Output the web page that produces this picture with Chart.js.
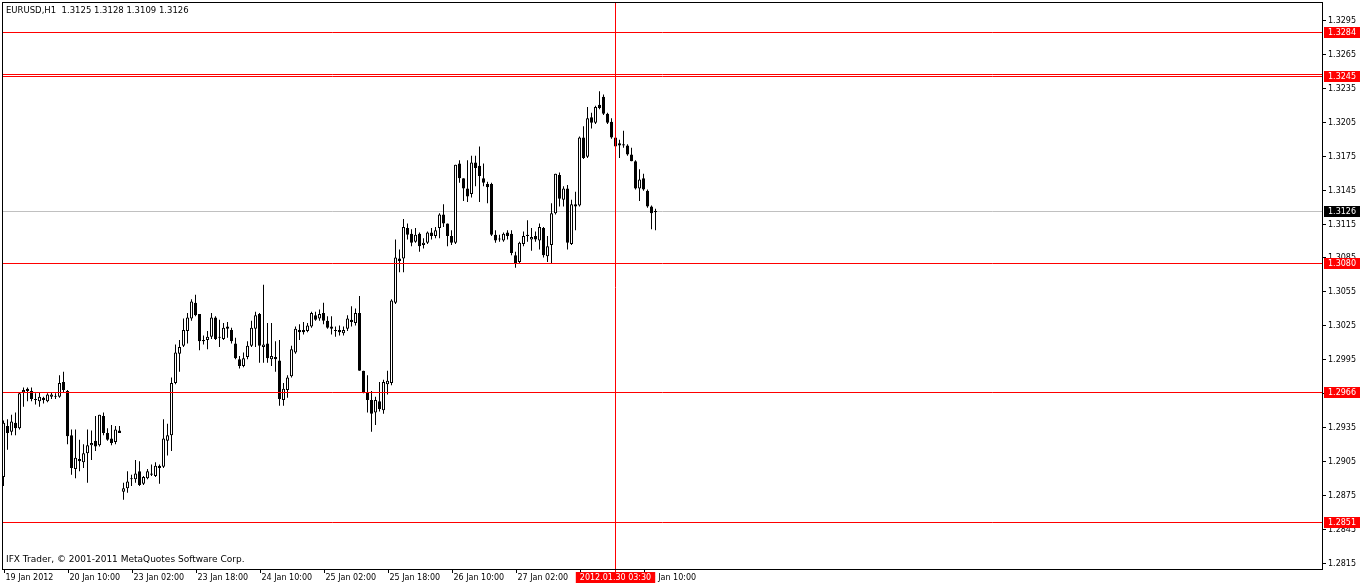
<!DOCTYPE html>
<html>
<head>
<meta charset="utf-8">
<title>EURUSD,H1</title>
<script src="https://cdn.jsdelivr.net/npm/chart.js@4.4.0/dist/chart.umd.min.js"></script>
<style>
  html, body { margin: 0; padding: 0; background: #fff; }
  canvas { display: block; }
</style>
</head>
<body>
<canvas id="priceChart" width="1360" height="586"></canvas>
<script>
const symbolTitle = 'EURUSD,H1  1.3125 1.3128 1.3109 1.3126';
const copyrightText = 'IFX Trader, \u00a9 2001-2011 MetaQuotes Software Corp.';

// hourly bars, 19 Jan 2012 18:00 -> 30 Jan 2012 13:00
const opens = [
  1.2891, 1.2936, 1.2931, 1.2939, 1.2934, 1.2966, 1.2969, 1.2967, 1.2960, 1.2958,
  1.2961, 1.2958, 1.2962, 1.2962, 1.2962, 1.2975, 1.2967, 1.2928, 1.2898, 1.2907,
  1.2904, 1.2912, 1.2919, 1.2923, 1.2919, 1.2945, 1.2930, 1.2925, 1.2922, 1.2932,
  1.2878, 1.2881, 1.2889, 1.2889, 1.2896, 1.2885, 1.2890, 1.2893, 1.2892, 1.2901,
  1.2900, 1.2923, 1.2928, 1.2974, 1.3000, 1.3007, 1.3020, 1.3031, 1.3045, 1.3035,
  1.3012, 1.3012, 1.3015, 1.3032, 1.3014, 1.3013, 1.3024, 1.3021, 1.3009, 1.2995,
  1.2989, 1.2997, 1.3007, 1.3022, 1.3035, 1.3006, 1.3009, 1.2995, 1.2997, 1.2994,
  1.2959, 1.2968, 1.2980, 1.3001, 1.3021, 1.3021, 1.3020, 1.3024, 1.3034, 1.3031,
  1.3036, 1.3029, 1.3024, 1.3021, 1.3021, 1.3018, 1.3022, 1.3030, 1.3027, 1.3036,
  1.2985, 1.2966, 1.2959, 1.2948, 1.2958, 1.2950, 1.2973, 1.2974, 1.3045, 1.3084,
  1.3084, 1.3111, 1.3106, 1.3099, 1.3106, 1.3096, 1.3098, 1.3107, 1.3104, 1.3111,
  1.3123, 1.3115, 1.3104, 1.3098, 1.3168, 1.3155, 1.3146, 1.3141, 1.3169, 1.3166,
  1.3155, 1.3150, 1.3150, 1.3105, 1.3101, 1.3100, 1.3107, 1.3106, 1.3087, 1.3081,
  1.3097, 1.3105, 1.3101, 1.3104, 1.3100, 1.3111, 1.3086, 1.3096, 1.3124, 1.3158,
  1.3136, 1.3146, 1.3097, 1.3132, 1.3131, 1.3191, 1.3174, 1.3209, 1.3204, 1.3220,
  1.3227, 1.3212, 1.3205, 1.3191, 1.3186, 1.3185, 1.3184, 1.3176, 1.3170, 1.3146,
  1.3155, 1.3144, 1.3130, 1.3125
];
const highs = [
  1.2941, 1.2942, 1.2946, 1.2948, 1.2966, 1.2970, 1.2970, 1.2970, 1.2965, 1.2966,
  1.2962, 1.2965, 1.2966, 1.2965, 1.2981, 1.2984, 1.2968, 1.2933, 1.2933, 1.2924,
  1.2920, 1.2933, 1.2932, 1.2945, 1.2946, 1.2948, 1.2934, 1.2937, 1.2936, 1.2936,
  1.2886, 1.2896, 1.2893, 1.2906, 1.2905, 1.2892, 1.2898, 1.2902, 1.2904, 1.2902,
  1.2942, 1.2938, 1.2979, 1.3008, 1.3012, 1.3031, 1.3036, 1.3048, 1.3052, 1.3035,
  1.3016, 1.3020, 1.3036, 1.3033, 1.3030, 1.3027, 1.3028, 1.3023, 1.3014, 1.2998,
  1.3001, 1.3011, 1.3029, 1.3037, 1.3036, 1.3061, 1.3027, 1.3027, 1.3011, 1.3012,
  1.2974, 1.2981, 1.3007, 1.3024, 1.3026, 1.3028, 1.3027, 1.3037, 1.3037, 1.3039,
  1.3045, 1.3033, 1.3033, 1.3024, 1.3025, 1.3024, 1.3034, 1.3042, 1.3040, 1.3051,
  1.2985, 1.2981, 1.2967, 1.2962, 1.2975, 1.2977, 1.2985, 1.3048, 1.3101, 1.3092,
  1.3119, 1.3115, 1.3110, 1.3111, 1.3107, 1.3102, 1.3108, 1.3111, 1.3112, 1.3124,
  1.3132, 1.3115, 1.3109, 1.3167, 1.3171, 1.3155, 1.3171, 1.3175, 1.3175, 1.3183,
  1.3168, 1.3152, 1.3151, 1.3109, 1.3105, 1.3107, 1.3109, 1.3109, 1.3090, 1.3099,
  1.3108, 1.3118, 1.3111, 1.3108, 1.3115, 1.3112, 1.3104, 1.3133, 1.3159, 1.3160,
  1.3148, 1.3149, 1.3136, 1.3143, 1.3192, 1.3201, 1.3218, 1.3213, 1.3219, 1.3232,
  1.3229, 1.3213, 1.3208, 1.3192, 1.3189, 1.3197, 1.3185, 1.3182, 1.3171, 1.3163,
  1.3159, 1.3145, 1.3131, 1.3128
];
const lows = [
  1.2883, 1.2915, 1.2928, 1.2928, 1.2933, 1.2953, 1.2958, 1.2958, 1.2955, 1.2953,
  1.2956, 1.2957, 1.2960, 1.2960, 1.2961, 1.2966, 1.2920, 1.2893, 1.2890, 1.2896,
  1.2899, 1.2886, 1.2906, 1.2914, 1.2918, 1.2928, 1.2923, 1.2919, 1.2920, 1.2930,
  1.2871, 1.2877, 1.2883, 1.2886, 1.2883, 1.2884, 1.2889, 1.2892, 1.2891, 1.2885,
  1.2899, 1.2910, 1.2914, 1.2973, 1.2984, 1.3006, 1.3009, 1.3029, 1.3033, 1.3003,
  1.3008, 1.3004, 1.3013, 1.3012, 1.3006, 1.3012, 1.3014, 1.3009, 1.2995, 1.2987,
  1.2988, 1.2995, 1.3006, 1.3006, 1.2992, 1.2992, 1.2992, 1.2989, 1.2984, 1.2954,
  1.2954, 1.2961, 1.2979, 1.3000, 1.3012, 1.3017, 1.3019, 1.3023, 1.3029, 1.3029,
  1.3026, 1.3022, 1.3017, 1.3015, 1.3016, 1.3016, 1.3020, 1.3024, 1.3025, 1.2985,
  1.2965, 1.2948, 1.2931, 1.2937, 1.2949, 1.2947, 1.2964, 1.2972, 1.3044, 1.3072,
  1.3072, 1.3101, 1.3095, 1.3098, 1.3090, 1.3093, 1.3097, 1.3101, 1.3102, 1.3102,
  1.3112, 1.3095, 1.3096, 1.3097, 1.3151, 1.3135, 1.3134, 1.3138, 1.3148, 1.3134,
  1.3148, 1.3133, 1.3104, 1.3098, 1.3099, 1.3099, 1.3101, 1.3087, 1.3076, 1.3080,
  1.3095, 1.3099, 1.3091, 1.3099, 1.3092, 1.3085, 1.3081, 1.3080, 1.3123, 1.3130,
  1.3130, 1.3092, 1.3096, 1.3109, 1.3130, 1.3172, 1.3173, 1.3199, 1.3203, 1.3216,
  1.3211, 1.3203, 1.3190, 1.3183, 1.3173, 1.3182, 1.3175, 1.3170, 1.3145, 1.3135,
  1.3144, 1.3129, 1.3110, 1.3109
];
const closes = [
  1.2939, 1.2930, 1.2940, 1.2934, 1.2965, 1.2968, 1.2967, 1.2960, 1.2959, 1.2962,
  1.2959, 1.2964, 1.2964, 1.2962, 1.2974, 1.2968, 1.2927, 1.2899, 1.2908, 1.2905,
  1.2912, 1.2919, 1.2921, 1.2918, 1.2946, 1.2930, 1.2924, 1.2921, 1.2933, 1.2930,
  1.2881, 1.2887, 1.2890, 1.2894, 1.2884, 1.2891, 1.2896, 1.2894, 1.2901, 1.2899,
  1.2925, 1.2928, 1.2974, 1.3001, 1.3006, 1.3021, 1.3032, 1.3046, 1.3034, 1.3011,
  1.3011, 1.3015, 1.3032, 1.3013, 1.3014, 1.3023, 1.3022, 1.3011, 1.2996, 1.2989,
  1.2996, 1.3007, 1.3023, 1.3034, 1.3007, 1.3008, 1.2996, 1.2998, 1.2995, 1.2960,
  1.2969, 1.2979, 1.3004, 1.3022, 1.3019, 1.3019, 1.3025, 1.3036, 1.3030, 1.3035,
  1.3029, 1.3023, 1.3022, 1.3020, 1.3019, 1.3021, 1.3031, 1.3028, 1.3036, 1.2985,
  1.2966, 1.2959, 1.2947, 1.2959, 1.2951, 1.2975, 1.2976, 1.3047, 1.3085, 1.3082,
  1.3112, 1.3105, 1.3098, 1.3105, 1.3095, 1.3098, 1.3107, 1.3104, 1.3109, 1.3123,
  1.3115, 1.3104, 1.3098, 1.3167, 1.3155, 1.3146, 1.3139, 1.3169, 1.3164, 1.3157,
  1.3151, 1.3147, 1.3105, 1.3100, 1.3101, 1.3106, 1.3104, 1.3089, 1.3080, 1.3098,
  1.3104, 1.3104, 1.3103, 1.3101, 1.3112, 1.3087, 1.3095, 1.3124, 1.3159, 1.3137,
  1.3146, 1.3098, 1.3132, 1.3130, 1.3191, 1.3173, 1.3208, 1.3204, 1.3218, 1.3217,
  1.3212, 1.3204, 1.3191, 1.3183, 1.3184, 1.3184, 1.3176, 1.3170, 1.3146, 1.3154,
  1.3145, 1.3130, 1.3124, 1.3126
];

// one time label every 16 bars
const timeLabels = [
  '19 Jan 2012', '20 Jan 10:00', '23 Jan 02:00', '23 Jan 18:00', '24 Jan 10:00', '25 Jan 02:00',
  '25 Jan 18:00', '26 Jan 10:00', '27 Jan 02:00', '27 Jan 18:00', '30 Jan 10:00'
];
const barsPerLabel = 16;
const priceTicks = [
  1.3295, 1.3265, 1.3235, 1.3205, 1.3175, 1.3145, 1.3115, 1.3085, 1.3055,
  1.3025, 1.2995, 1.2965, 1.2935, 1.2905, 1.2875, 1.2845, 1.2815
];
const levelLines = [1.3284, 1.3247, 1.3245, 1.3080, 1.2966, 1.2851];
const levelLabels = [1.3284, 1.3245, 1.3080, 1.2966, 1.2851];
const bidPrice = 1.3126;
const cursorBar = 152.9;
const cursorLabel = '2012.01.30 03:30';

const FONT = '8px "DejaVu Sans", Tahoma, sans-serif';
const TITLE_FONT = '8.5px "DejaVu Sans", Tahoma, sans-serif';
const NOTE_FONT = '9px "DejaVu Sans", Tahoma, sans-serif';

const mt4Plugin = {
  id: 'mt4',
  beforeDraw(chart) {
    const c = chart.ctx;
    c.save();
    c.fillStyle = '#ffffff';
    c.fillRect(0, 0, chart.width, chart.height);
    c.restore();
  },
  beforeDatasetsDraw(chart) {
    const c = chart.ctx, a = chart.chartArea, y = chart.scales.y;
    const py = Math.round(y.getPixelForValue(bidPrice)) + 0.5;
    c.save();
    c.strokeStyle = '#c0c0c0';
    c.lineWidth = 1;
    c.beginPath();
    c.moveTo(a.left, py);
    c.lineTo(a.right, py);
    c.stroke();
    c.restore();
  },
  afterDatasetsDraw(chart) {
    const c = chart.ctx, a = chart.chartArea;
    const xs = chart.scales.x, ys = chart.scales.y;
    c.save();
    c.lineWidth = 1;

    // horizontal levels
    c.strokeStyle = '#ff0000';
    levelLines.forEach(p => {
      const py = Math.round(ys.getPixelForValue(p)) + 0.5;
      c.beginPath();
      c.moveTo(a.left, py);
      c.lineTo(a.right, py);
      c.stroke();
    });

    // cursor line
    const cx = Math.round(xs.getPixelForValue(cursorBar)) + 0.5;
    c.beginPath();
    c.moveTo(cx, a.top);
    c.lineTo(cx, a.bottom + 3);
    c.stroke();

    // frame
    c.strokeStyle = '#000000';
    c.strokeRect(a.left - 0.5, a.top - 0.5, a.right - a.left + 1, a.bottom - a.top + 1);

    c.font = FONT;
    c.textBaseline = 'middle';
    c.fillStyle = '#000000';
    c.textAlign = 'left';

    // price axis
    priceTicks.forEach(p => {
      const py = Math.round(ys.getPixelForValue(p)) + 0.5;
      c.beginPath();
      c.moveTo(a.right + 1, py);
      c.lineTo(a.right + 4, py);
      c.stroke();
      c.fillText(p.toFixed(4), a.right + 6, py);
    });

    // time axis
    timeLabels.forEach((t, k) => {
      const px = Math.round(xs.getPixelForValue(k * barsPerLabel)) + 0.5;
      c.beginPath();
      c.moveTo(px, a.bottom + 1);
      c.lineTo(px, a.bottom + 4);
      c.stroke();
      c.fillText(t, px + 1, a.bottom + 9);
    });

    // level tags
    const tag = (p, bg) => {
      const py = Math.round(ys.getPixelForValue(p));
      c.fillStyle = bg;
      c.fillRect(a.right + 2, py - 5, chart.width - a.right - 2, 11);
      c.fillStyle = '#ffffff';
      c.fillText(p.toFixed(4), a.right + 6, py + 0.5);
    };
    levelLabels.forEach(p => tag(p, '#ff0000'));
    tag(bidPrice, '#000000');

    // cursor time tag
    const tw = c.measureText(cursorLabel).width + 8;
    c.fillStyle = '#ff0000';
    c.fillRect(cx - tw / 2, a.bottom + 3, tw, 11);
    c.fillStyle = '#ffffff';
    c.textAlign = 'center';
    c.fillText(cursorLabel, cx, a.bottom + 9);

    // title and copyright
    c.textAlign = 'left';
    c.fillStyle = '#000000';
    c.font = TITLE_FONT;
    c.fillText(symbolTitle, a.left + 3, a.top + 8);
    c.font = NOTE_FONT;
    c.fillText(copyrightText, a.left + 3, a.bottom - 9);
    c.restore();
  }
};

document.addEventListener('DOMContentLoaded', () => {
  const bodies = opens.map((o, i) => ({ x: i, y: [Math.min(o, closes[i]), Math.max(o, closes[i])] }));
  const wicks = highs.map((h, i) => ({ x: i, y: [lows[i], h] }));
  const bodyFill = opens.map((o, i) => closes[i] > o ? '#ffffff' : '#000000');

  const ctx = document.getElementById('priceChart');
  new Chart(ctx, {
    type: 'bar',
    data: {
      datasets: [
        {
          label: 'body',
          data: bodies,
          backgroundColor: bodyFill,
          borderColor: '#000000',
          borderWidth: 1,
          borderSkipped: false,
          barThickness: 3,
          minBarLength: 1,
          grouped: false,
          inflateAmount: 0,
          order: 0
        },
        {
          label: 'wick',
          data: wicks,
          backgroundColor: '#000000',
          borderWidth: 0,
          barThickness: 1,
          grouped: false,
          inflateAmount: 0,
          order: 1
        }
      ]
    },
    options: {
      responsive: false,
      animation: false,
      devicePixelRatio: 1,
      layout: { padding: { left: 3, top: 3, right: 38, bottom: 17 } },
      scales: {
        x: { type: 'linear', min: -0.125, max: 329.625, offset: false, display: false },
        y: { min: 1.280971, max: 1.330989, display: false }
      },
      plugins: { legend: { display: false }, tooltip: { enabled: false } }
    },
    plugins: [mt4Plugin]
  });
});
</script>
</body>
</html>
